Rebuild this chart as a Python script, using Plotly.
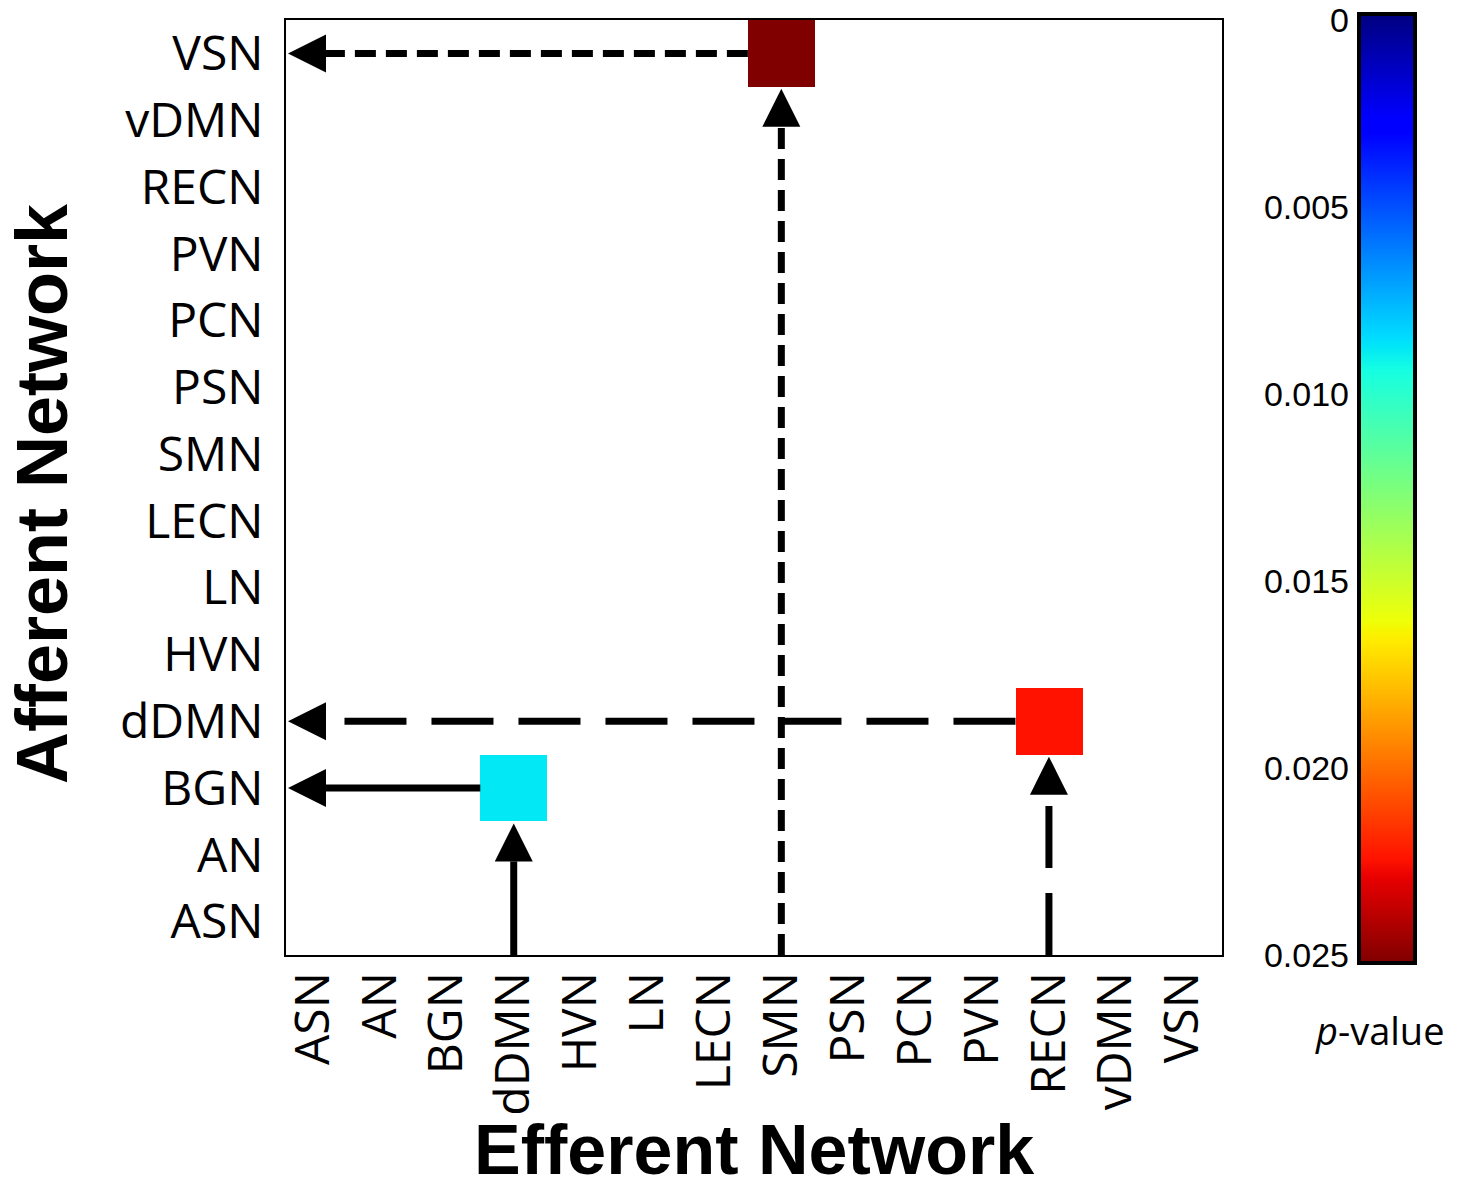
import plotly.graph_objects as go

# ---------------- data ----------------
networks = ["ASN", "AN", "BGN", "dDMN", "HVN", "LN", "LECN",
            "SMN", "PSN", "PCN", "PVN", "RECN", "vDMN", "VSN"]
efferent_labels = networks          # x axis (columns)
afferent_labels = networks          # y axis (rows, bottom -> top)

conn_efferent = ["dDMN", "RECN", "SMN"]
conn_afferent = ["BGN", "dDMN", "VSN"]
conn_pvalue = [0.0088, 0.02225, 0.0250]

cbar_tickvals = [0, 0.005, 0.010, 0.015, 0.020, 0.025]
cbar_ticktext = ["0", "0.005", "0.010", "0.015", "0.020", "0.025"]
P_MAX = 0.025

# ---------------- styles ----------------
conn_dash = ["solid", "62px,25px", "21px,10px"]
LINE_W = 7
HEAD_LEN_PX = 38
HEAD_W_PX = 38
TIP_GAP_PX = 2

jet = [
    [0.0, "rgb(0,0,128)"], [0.11, "rgb(0,0,255)"], [0.125, "rgb(0,0,255)"],
    [0.34, "rgb(0,219,255)"], [0.35, "rgb(0,230,247)"], [0.375, "rgb(21,255,226)"],
    [0.64, "rgb(239,255,8)"], [0.65, "rgb(247,245,0)"], [0.66, "rgb(255,236,0)"],
    [0.89, "rgb(255,19,0)"], [0.91, "rgb(232,0,0)"], [1.0, "rgb(128,0,0)"],
]

W, H = 1466, 1195
ML, MR, MT, MB = 286, 40, 4, 222
PW, PH = W - ML - MR, H - MT - MB
plot_x0, plot_x1 = 286, 1222
plot_y0, plot_y1 = 20, 955
x_dom = [(plot_x0 - ML) / PW, (plot_x1 - ML) / PW]
y_dom = [(H - MB - plot_y1) / PH, (H - MB - plot_y0) / PH]
x_range = [-0.404, 13.587]
y_range = [-0.5, 13.5]
XU = (plot_x1 - plot_x0) / (x_range[1] - x_range[0])
YU = (plot_y1 - plot_y0) / (y_range[1] - y_range[0])


def px_x(px):
    return (px - ML) / PW


def px_y(py):
    return (H - MB - py) / PH


xi = list(range(len(efferent_labels)))
yi = list(range(len(afferent_labels)))

z = [[None for _ in xi] for _ in yi]
cd = [[None for _ in xi] for _ in yi]
for e, a, p in zip(conn_efferent, conn_afferent, conn_pvalue):
    z[afferent_labels.index(a)][efferent_labels.index(e)] = -p
    cd[afferent_labels.index(a)][efferent_labels.index(e)] = p

fig = go.Figure()

for e, a, dash in zip(conn_efferent, conn_afferent, conn_dash):
    xc = efferent_labels.index(e)
    yc = afferent_labels.index(a)
    # vertical arrow: from bottom of plot up to the cell
    tip_y = yc - 0.5 - TIP_GAP_PX / YU
    base_y = tip_y - HEAD_LEN_PX / YU
    fig.add_trace(go.Scatter(
        x=[xc, xc], y=[y_range[0], base_y], mode="lines",
        line=dict(color="black", width=LINE_W, dash=dash),
        hoverinfo="skip", showlegend=False))
    hw = HEAD_W_PX / 2 / XU
    fig.add_trace(go.Scatter(
        x=[xc - hw, xc + hw, xc, xc - hw], y=[base_y, base_y, tip_y, base_y],
        mode="lines", fill="toself", fillcolor="black",
        line=dict(color="black", width=0), hoverinfo="skip", showlegend=False))
    # horizontal arrow: from the cell left to the y axis
    tip_x = x_range[0] + TIP_GAP_PX / XU
    base_x = tip_x + HEAD_LEN_PX / XU
    fig.add_trace(go.Scatter(
        x=[xc - 0.5, base_x], y=[yc, yc], mode="lines",
        line=dict(color="black", width=LINE_W, dash=dash),
        hoverinfo="skip", showlegend=False))
    hh = HEAD_W_PX / 2 / YU
    fig.add_trace(go.Scatter(
        x=[base_x, base_x, tip_x, base_x], y=[yc - hh, yc + hh, yc, yc - hh],
        mode="lines", fill="toself", fillcolor="black",
        line=dict(color="black", width=0), hoverinfo="skip", showlegend=False))

fig.add_trace(go.Heatmap(
    x=xi, y=yi, z=z, customdata=cd,
    zmin=-P_MAX, zmax=0, colorscale=jet, reversescale=True,
    hovertemplate="p = %{customdata}<extra></extra>",
    colorbar=dict(
        thicknessmode="pixels", thickness=56,
        lenmode="pixels", len=949,
        x=px_x(1359), xanchor="left", xpad=0,
        y=px_y(488.5), yanchor="middle", ypad=0,
        outlinewidth=4, outlinecolor="black",
        showticklabels=False, ticks="",
    ),
))

# dummy trace to host the colorbar label axis
fig.add_trace(go.Scatter(x=[None], y=[None], yaxis="y2", showlegend=False, hoverinfo="skip"))

tick_font = dict(family="Open Sans", size=48, color="black")
fig.update_layout(
    width=W, height=H,
    margin=dict(l=ML, r=MR, t=MT, b=MB),
    paper_bgcolor="white", plot_bgcolor="white",
    showlegend=False,
    xaxis=dict(
        domain=x_dom, range=x_range, tickvals=xi, ticktext=efferent_labels,
        tickangle=-90, tickfont=tick_font, ticks="", ticklabelstandoff=-4,
        showgrid=False, zeroline=False, automargin=False,
        showline=True, mirror=True, linecolor="black", linewidth=2,
    ),
    yaxis=dict(
        domain=y_dom, range=y_range, tickvals=yi, ticktext=afferent_labels,
        tickfont=tick_font, ticks="", ticklabelstandoff=11,
        showgrid=False, zeroline=False, automargin=False,
        showline=True, mirror=True, linecolor="black", linewidth=2,
    ),
    yaxis2=dict(
        overlaying="y", anchor="free", position=px_x(1357), side="left",
        range=[P_MAX, 0], tickvals=cbar_tickvals, ticktext=cbar_ticktext,
        tickfont=dict(family="Liberation Sans", size=34, color="black"),
        ticks="", ticklabelstandoff=8, showline=False, showgrid=False,
        zeroline=False, automargin=False,
    ),
    annotations=[
        dict(text="<b>Efferent Network</b>", xref="paper", yref="paper",
             x=(x_dom[0] + x_dom[1]) / 2, y=px_y(1150),
             xanchor="center", yanchor="middle", showarrow=False,
             font=dict(family="Liberation Sans", size=70, color="black")),
        dict(text="<b>Afferent Network</b>", xref="paper", yref="paper",
             x=px_x(42), y=px_y(494), textangle=-90,
             xanchor="center", yanchor="middle", showarrow=False,
             font=dict(family="Liberation Sans", size=72, color="black")),
        dict(text="<i>p</i>-value", xref="paper", yref="paper",
             x=px_x(1380), y=px_y(1030),
             xanchor="center", yanchor="middle", showarrow=False,
             font=dict(family="Open Sans", size=38, color="black")),
    ],
)

fig.write_html("out.html")
